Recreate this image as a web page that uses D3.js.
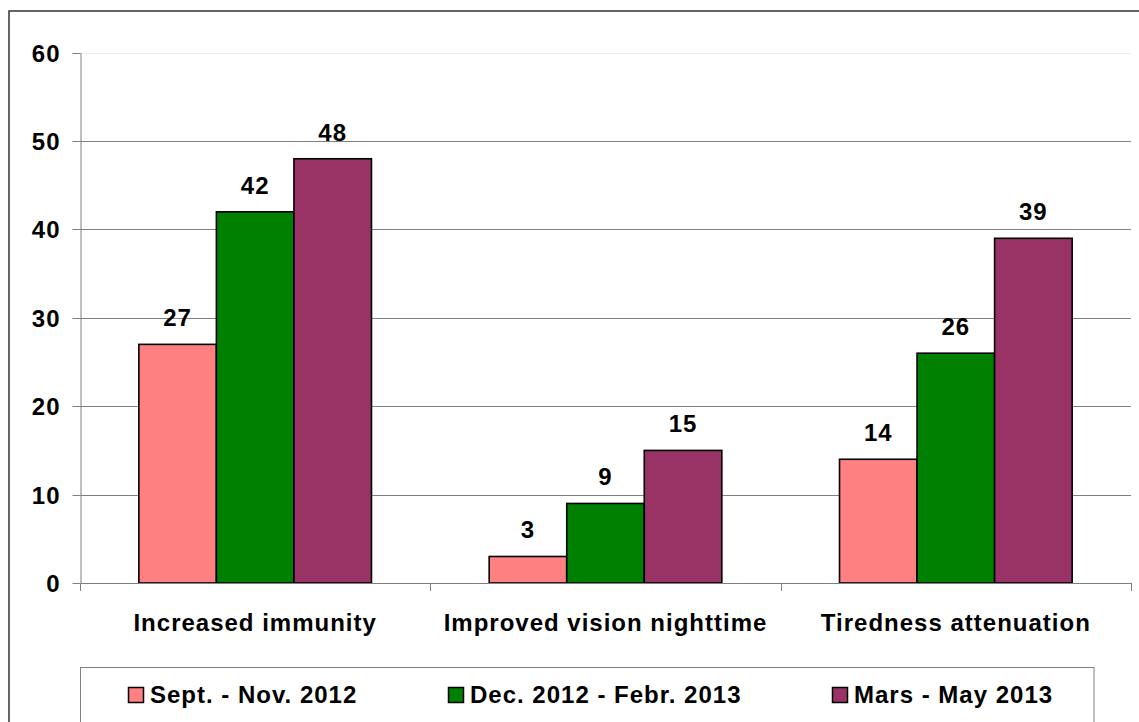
<!DOCTYPE html>
<html>
<head>
<meta charset="utf-8">
<script src="https://cdn.jsdelivr.net/npm/d3@7"></script>
<style>
	html, body { margin: 0; padding: 0; background: #fff; }
	svg text { font-family: "Liberation Sans", Arial, sans-serif; font-weight: bold; fill: #000; }
</style>
</head>
<body>
<div id="chart"></div>
<script>

const categories = ["Increased immunity", "Improved vision nighttime", "Tiredness attenuation"];
const seriesNames = ["Sept. - Nov. 2012", "Dec. 2012 - Febr. 2013", "Mars - May 2013"];
const sepNov = [27, 3, 14];
const decFeb = [42, 9, 26];
const marMay = [48, 15, 39];
const yTicks = [0, 10, 20, 30, 40, 50, 60];

const colors = ["#FF8080", "#008000", "#993366"];
const width = 1139, height = 722;
const plot = { left: 80, right: 1131, top: 52.7, bottom: 583 };
const fontSize = 24;
const spacing = 1;

const seriesValues = [sepNov, decFeb, marMay];
const data = categories.map((c, i) => ({
	name: c,
	values: seriesNames.map((s, j) => ({ series: s, idx: j, value: seriesValues[j][i] }))
}));

const svg = d3.select("#chart")
	.append("svg")
		.attr("width", width)
		.attr("height", height);

// outer chart border, runs off the right and bottom edges
svg.append("rect")
	.attr("x", 9).attr("y", 11)
	.attr("width", width + 10).attr("height", height + 10)
	.attr("fill", "#fff")
	.attr("stroke", "#333")
	.attr("stroke-width", 1.5);

const x0 = d3.scaleBand()
	.domain(categories)
	.range([plot.left, plot.right])
	.padding(0);

const bw = x0.bandwidth();
const x1 = d3.scaleBand()
	.domain(seriesNames)
	.range([bw * 0.168, bw * (1 - 0.168)])
	.padding(0);

const y = d3.scaleLinear()
	.domain([0, 60])
	.range([plot.bottom, plot.top]);

// grid lines
svg.append("g")
	.selectAll("line")
		.data(yTicks.filter(d => d > 0)).enter()
	.append("line")
		.attr("x1", plot.left).attr("x2", plot.right)
		.attr("y1", d => Math.round(y(d)) + 0.5)
		.attr("y2", d => Math.round(y(d)) + 0.5)
		.attr("stroke", d => d === 60 ? "#eeeeee" : "#808080")
		.attr("stroke-width", 1);

// y axis
const yAxis = svg.append("g")
	.attr("transform", `translate(${plot.left + 0.5},0)`)
	.call(d3.axisLeft(y).tickValues(yTicks).tickSize(8).tickPadding(12).tickSizeOuter(0));
yAxis.select(".domain").attr("stroke", "#808080");
yAxis.selectAll(".tick line").attr("stroke", "#808080");
yAxis.selectAll(".tick text")
	.attr("font-size", fontSize)
	.attr("font-family", null)
	.style("letter-spacing", spacing + "px")
	.attr("dy", "0.36em");
yAxis.selectAll(".tick").attr("transform", d => `translate(0,${Math.round(y(d)) + 0.5})`);

// bars
const groups = svg.append("g")
	.selectAll("g")
		.data(data).enter()
	.append("g")
		.attr("transform", d => `translate(${x0(d.name)},0)`);

groups.selectAll("rect")
	.data(d => d.values).enter()
	.append("rect")
		.attr("x", d => x1(d.series))
		.attr("y", d => y(d.value))
		.attr("width", x1.bandwidth())
		.attr("height", d => y(0) - y(d.value))
		.attr("fill", d => colors[d.idx])
		.attr("stroke", "#000")
		.attr("stroke-width", 1.6);

groups.selectAll("text")
	.data(d => d.values).enter()
	.append("text")
		.attr("x", d => x1(d.series) + x1.bandwidth() / 2)
		.attr("y", d => y(d.value) - 18)
		.attr("text-anchor", "middle")
		.attr("font-size", fontSize)
		.style("letter-spacing", spacing + "px")
		.text(d => d.value);

// x axis: ticks at the category boundaries
const xAxis = svg.append("g");
xAxis.append("line")
	.attr("x1", plot.left).attr("x2", plot.right)
	.attr("y1", plot.bottom + 0.5).attr("y2", plot.bottom + 0.5)
	.attr("stroke", "#808080");
xAxis.selectAll("line.tick")
	.data(categories.map(c => x0(c) + bw).concat([plot.left])).enter()
	.append("line")
		.attr("class", "tick")
		.attr("x1", d => Math.round(d) + 0.5).attr("x2", d => Math.round(d) + 0.5)
		.attr("y1", plot.bottom).attr("y2", plot.bottom + 8)
		.attr("stroke", "#808080");
xAxis.selectAll("text")
	.data(categories).enter()
	.append("text")
		.attr("x", d => x0(d) + bw / 2)
		.attr("y", 631)
		.attr("text-anchor", "middle")
		.attr("font-size", fontSize)
		.style("letter-spacing", spacing + "px")
		.text(d => d);

// legend
const legend = svg.append("g");
legend.append("rect")
	.attr("x", 80.5).attr("y", 667.5)
	.attr("width", 1094 - 80.5).attr("height", 80)
	.attr("fill", "#fff")
	.attr("stroke", "#808080")
	.attr("stroke-width", 1);

const legendX = [128, 448, 832];
const items = legend.selectAll("g")
	.data(seriesNames).enter()
	.append("g")
		.attr("transform", (d, i) => `translate(${legendX[i]},0)`);

items.append("rect")
	.attr("x", 0.5).attr("y", 687.5)
	.attr("width", 15).attr("height", 15)
	.attr("fill", (d, i) => colors[i])
	.attr("stroke", "#000")
	.attr("stroke-width", 1.5);

items.append("text")
	.attr("x", 22)
	.attr("y", 703)
	.attr("font-size", fontSize)
	.style("letter-spacing", spacing + "px")
	.text(d => d);

</script>
</body>
</html>
